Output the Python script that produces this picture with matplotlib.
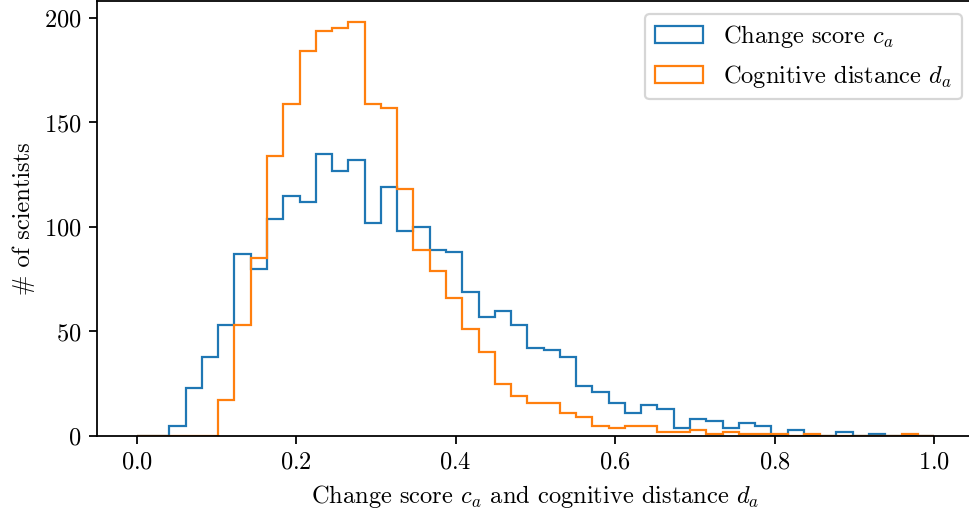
"""
Step histograms of change score and cognitive distance per scientist.
"""

import matplotlib
matplotlib.use("Agg")
import matplotlib.pyplot as plt
import numpy as np

# counts per bin, 49 equal bins over [0, 1]
change_counts = [0, 0, 5, 23, 38, 53, 87, 80, 104, 115, 112, 135, 127, 132, 102, 119,
                 98, 100, 89, 88, 69, 57, 60, 53, 42, 41, 38, 24, 21, 16, 11, 15,
                 13, 4, 8, 7, 4, 6, 5, 0, 3, 0, 0, 2, 0, 1, 0, 0, 0]
distance_counts = [0, 0, 0, 0, 0, 17, 53, 85, 134, 159, 184, 194, 195, 198, 159, 157,
                   118, 89, 79, 66, 51, 40, 25, 19, 16, 16, 11, 9, 5, 4, 5, 5,
                   2, 2, 3, 1, 2, 1, 1, 1, 0, 1, 0, 0, 0, 0, 0, 1, 0]
n_bins = 49

plt.rcParams["font.family"] = "cmr10"
plt.rcParams["mathtext.fontset"] = "cm"
plt.rcParams["axes.formatter.use_mathtext"] = True
plt.rcParams["font.size"] = 11

edges = np.linspace(0, 1, n_bins + 1)
centers = (edges[:-1] + edges[1:]) / 2

fig = plt.figure(figsize=(969 / 160, 514 / 160), dpi=160)
ax = fig.add_axes([0.1001, 0.1518, 0.905, 0.8453])

ax.hist(centers, bins=edges, weights=change_counts, histtype="step",
        color="tab:blue", label="Change score $c_a$")
ax.hist(centers, bins=edges, weights=distance_counts, histtype="step",
        color="tab:orange", label="Cognitive distance $d_a$")

ax.set_xlabel("Change score $c_a$ and cognitive distance $d_a$")
ax.set_ylabel("# of scientists")
ax.legend(loc="upper right")

fig.savefig("out.png", dpi=160)
